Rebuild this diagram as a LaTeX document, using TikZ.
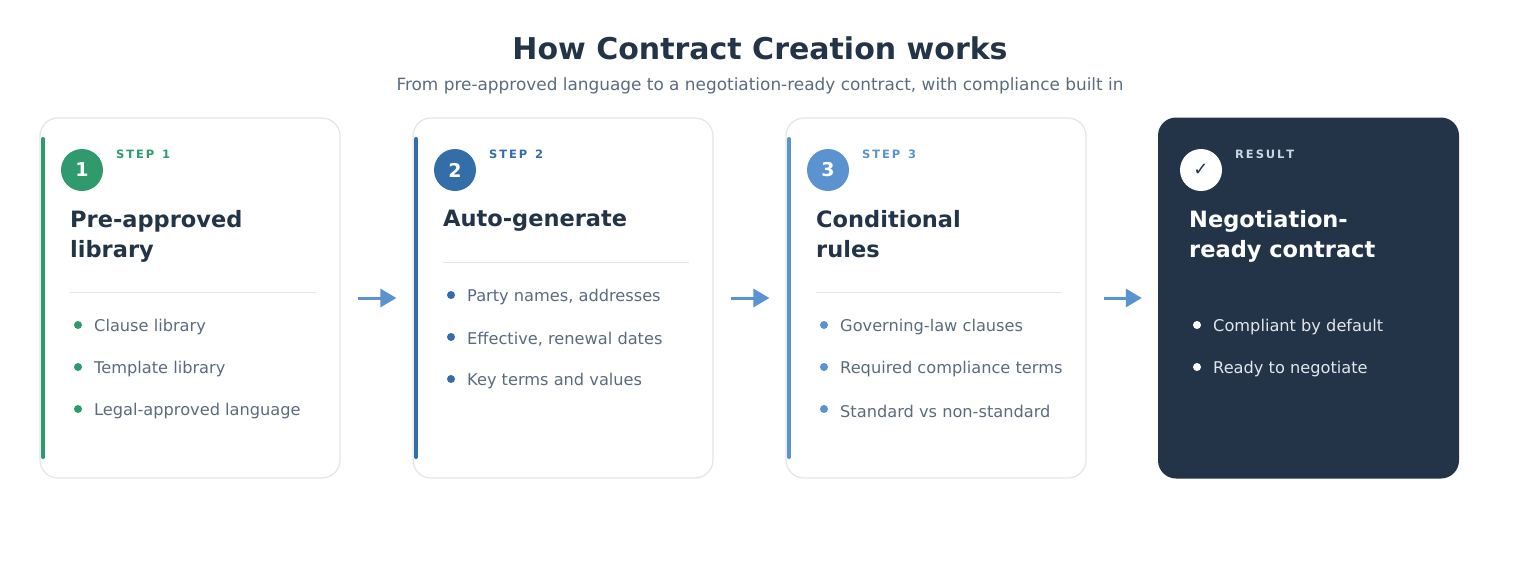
\documentclass[tikz,border=0pt]{standalone}
\usepackage{fontspec}
\setmainfont{DejaVu Sans}
\usetikzlibrary{arrows.meta,calc}
\definecolor{ink}{HTML}{233348}
\definecolor{muted}{HTML}{5B6B7F}
\definecolor{rim}{HTML}{E2E6EB}
\definecolor{green}{HTML}{2E9A6E}
\definecolor{blue}{HTML}{336EA8}
\definecolor{sky}{HTML}{5A93CF}
\definecolor{pale}{HTML}{C9D6E6}
\begin{document}
\begin{tikzpicture}[x=1pt,y=-1pt,
card/.style={draw=rim, line width=1.2pt, rounded corners=18pt, fill=white},
final/.style={fill=ink, rounded corners=18pt},
bar/.style={line width=4pt, line cap=round},
badge/.style={circle, minimum size=42pt, inner sep=0pt, font=\fontsize{19}{19}\selectfont\bfseries, text=white},
tag/.style={anchor=west, inner sep=0pt, font=\fontsize{11.5}{11.5}\selectfont\bfseries},
head/.style={anchor=north west, inner sep=0pt, align=left, text=ink, font=\fontsize{22.5}{30}\selectfont\bfseries},
rule/.style={draw=rim, line width=1pt},
dot/.style={circle, inner sep=0pt, minimum size=8pt},
item/.style={anchor=west, inner sep=0pt, text=muted, font=\fontsize{16.2}{16}\selectfont},
flow/.style={draw=sky, line width=3pt, -{Triangle[length=16pt,width=18pt]}, shorten <=17pt, shorten >=16pt},
]
\useasboundingbox (0,0) rectangle (1520,560);

% title
\node (title) at (760,48) {\fontsize{30}{30}\selectfont\bfseries\color{ink}How Contract Creation works};
\node (sub) at (760,86) {\fontsize{16.9}{17}\selectfont\color{muted}From pre-approved language to a negotiation-ready contract, with compliance built in};

% step 1
\node[card, minimum width=300pt, minimum height=360pt] (c1) at (190,298) {};
\draw[bar, green] (43,139) -- (43,457);
\node[badge, fill=green] (b1) at (82,170) {1};
\node[tag, text=green] (t1) at (116,154) {S\,T\,E\,P\,\ \,1};
\node[head] (h1) at (70,210) {Pre-approved\\library};
\draw[rule] (70,292) -- (316,292);
\foreach \y/\t in {325/Clause library, 367/Template library, 409/Legal-approved language}{
  \node[dot, fill=green] at (78,\y) {};
  \node[item] at (94,\y+2) {\t};
}

% step 2
\node[card, minimum width=300pt, minimum height=360pt] (c2) at (563,298) {};
\draw[bar, blue] (416,139) -- (416,457);
\node[badge, fill=blue] (b2) at (455,170) {2};
\node[tag, text=blue] (t2) at (489,154) {S\,T\,E\,P\,\ \,2};
\node[head] (h2) at (443,210) {Auto-generate};
\draw[rule] (443,262) -- (689,262);
\foreach \y/\t in {295/{Party names, addresses}, 337/{Effective, renewal dates}, 379/Key terms and values}{
  \node[dot, fill=blue] at (451,\y) {};
  \node[item] at (467,\y+2) {\t};
}

% step 3
\node[card, minimum width=300pt, minimum height=360pt] (c3) at (936,298) {};
\draw[bar, sky] (789,139) -- (789,457);
\node[badge, fill=sky] (b3) at (828,170) {3};
\node[tag, text=sky] (t3) at (862,154) {S\,T\,E\,P\,\ \,3};
\node[head] (h3) at (816,210) {Conditional\\rules};
\draw[rule] (816,292) -- (1062,292);
\foreach \y/\t in {325/Governing-law clauses, 367/Required compliance terms, 409/Standard vs non-standard}{
  \node[dot, fill=sky] at (824,\y) {};
  \node[item] at (840,\y+2) {\t};
}

% result
\node[final, minimum width=301pt, minimum height=361pt] (c4) at (1308.5,298) {};
\node[badge, fill=white, text=ink, font=\fontsize{18}{18}\selectfont] (b4) at (1201,170) {✓};
\node[tag, text=pale] (t4) at (1235,154) {R\,E\,S\,U\,L\,T};
\node[head, text=white] (h4) at (1189,210) {Negotiation-\\ready contract};
\foreach \y/\t in {325/Compliant by default, 367/Ready to negotiate}{
  \node[dot, fill=white] at (1197,\y) {};
  \node[item, text=rim] at (1213,\y+2) {\t};
}

% arrows
\draw[flow] (c1.east) -- (c2.west);
\draw[flow] (c2.east) -- (c3.west);
\draw[flow] (c3.east) -- (c4.west);
\end{tikzpicture}
\end{document}
